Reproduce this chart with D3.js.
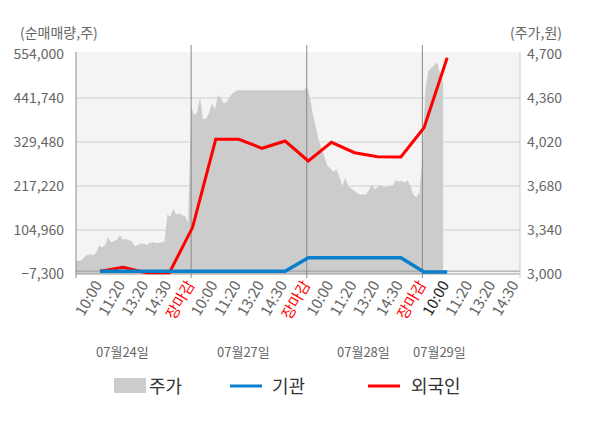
<!DOCTYPE html>
<meta charset="utf-8">
<style>
body { margin: 0; background: #fff; }
text { font-family: "Noto Sans CJK KR", "Noto Sans", sans-serif; }
</style>
<body>
<div id="chart"></div>
<script src="https://cdn.jsdelivr.net/npm/d3@7"></script>
<script>

// x categories for the net-buying lines (last day has no close yet)
var timeLabels = ['10:00', '11:20', '13:20', '14:30', '장마감',
                  '10:00', '11:20', '13:20', '14:30', '장마감',
                  '10:00', '11:20', '13:20', '14:30', '장마감',
                  '10:00', '11:20', '13:20', '14:30'];
var dayLabels = ['07월24일', '07월27일', '07월28일', '07월29일'];

// net buying volume (shares)
var foreignNet = [0, 10000, -4000, -4000, 111800, 336400, 336400, 313400, 332000,
                  281000, 328700, 302200, 292000, 291200, 366000, 544600];
var instNet = [0, 0, 0, 0, 0, 0, 0, 0, 0,
               34300, 34300, 34300, 34300, 34300, -2000, -2000];

// intraday price samples (won), 39 per full day
var price0724 = [3100, 3100, 3105, 3130, 3150, 3150, 3145, 3165, 3220, 3205,
                 3225, 3285, 3245, 3255, 3265, 3300, 3265, 3270, 3260, 3255,
                 3215, 3225, 3235, 3235, 3225, 3240, 3245, 3240, 3240, 3245,
                 3250, 3460, 3440, 3505, 3460, 3470, 3455, 3445, 3400];
var price0727 = [4290, 4230, 4250, 4365, 4200, 4200, 4240, 4320, 4270, 4385,
                 4360, 4320, 4330, 4370, 4395, 4415, 4420, 4420, 4420, 4420,
                 4420, 4420, 4420, 4420, 4420, 4420, 4420, 4420, 4420, 4420,
                 4420, 4420, 4420, 4420, 4420, 4420, 4420, 4420, 4420];
var price0728 = [4445, 4380, 4240, 4140, 4035, 3970, 3905, 3835, 3815, 3790,
                 3810, 3750, 3680, 3745, 3680, 3660, 3645, 3625, 3615, 3615,
                 3615, 3650, 3690, 3655, 3675, 3685, 3670, 3675, 3680, 3680,
                 3725, 3715, 3720, 3705, 3725, 3680, 3610, 3595, 3630];
var price0729 = [3900, 4420, 4570, 4590, 4615, 4635, 4550, 4470];

var leftTicks = [-7300, 104960, 217220, 329480, 441740, 554000];
var rightTicks = [3000, 3340, 3680, 4020, 4360, 4700];

var W = 600, H = 428;
var PLOT_L = 76, PLOT_R = 520, PLOT_T = 52, PLOT_B = 274;
var SAMPLES_PER_DAY = 39;
var RED = '#ff0000';
var BLUE = '#0a7fcc';
var AREA = '#cccccc';
var LABEL = '#666';

var svg = d3.select('#chart').append('svg')
    .attr('width', W)
    .attr('height', H);

var yLeft = d3.scaleLinear().domain([-7300, 554000]).range([PLOT_B, 54]);
var yRight = d3.scaleLinear().domain([3000, 4700]).range([PLOT_B, 54]);
var xPt = d3.scalePoint().domain(d3.range(timeLabels.length)).range([100, 516.6]);
var xDay = d3.scaleLinear().domain([0, 4]).range([75.5, 538]);

// background
svg.append('rect')
    .attr('x', PLOT_L).attr('y', PLOT_T)
    .attr('width', PLOT_R - PLOT_L).attr('height', PLOT_B - PLOT_T)
    .attr('fill', '#f4f4f4');

svg.append('clipPath').attr('id', 'plotclip')
  .append('rect')
    .attr('x', PLOT_L).attr('y', PLOT_T)
    .attr('width', PLOT_R - PLOT_L).attr('height', PLOT_B - PLOT_T);

// grid lines
svg.selectAll('.grid')
    .data(leftTicks.slice(1, 5))
    .enter().append('line')
    .attr('class', 'grid')
    .attr('x1', PLOT_L).attr('x2', PLOT_R)
    .attr('y1', function(d) { return yLeft(d); })
    .attr('y2', function(d) { return yLeft(d); })
    .attr('stroke', '#dcdcdc')
    .attr('stroke-width', 1.5);

// price area
var pricePts = [];
[price0724, price0727, price0728, price0729].forEach(function(arr, d) {
  arr.forEach(function(p, i) {
    pricePts.push({t: d + i / SAMPLES_PER_DAY, p: p});
  });
});
var area = d3.area()
    .x(function(d) { return xDay(d.t); })
    .y0(PLOT_B)
    .y1(function(d) { return yRight(d.p); });
svg.append('path')
    .datum(pricePts)
    .attr('clip-path', 'url(#plotclip)')
    .attr('fill', AREA)
    .attr('d', area);

// zero line and bottom axis
svg.append('line')
    .attr('x1', PLOT_L).attr('x2', PLOT_R)
    .attr('y1', yLeft(0)).attr('y2', yLeft(0))
    .attr('stroke', '#999').attr('stroke-width', 1);
svg.append('line')
    .attr('x1', PLOT_L).attr('x2', PLOT_R)
    .attr('y1', PLOT_B).attr('y2', PLOT_B)
    .attr('stroke', '#999').attr('stroke-width', 1.2);

// day dividers
svg.selectAll('.divider')
    .data([1, 2, 3])
    .enter().append('line')
    .attr('class', 'divider')
    .attr('x1', function(d) { return xDay(d); })
    .attr('x2', function(d) { return xDay(d); })
    .attr('y1', 45).attr('y2', 278)
    .attr('stroke', '#888').attr('stroke-width', 1);

// left and right axis lines
svg.append('line')
    .attr('x1', PLOT_L).attr('x2', PLOT_L)
    .attr('y1', PLOT_T).attr('y2', 278)
    .attr('stroke', '#888').attr('stroke-width', 1);
svg.append('line')
    .attr('x1', PLOT_R).attr('x2', PLOT_R)
    .attr('y1', PLOT_T).attr('y2', 278)
    .attr('stroke', '#ccc').attr('stroke-width', 1);

// lines
var lineL = d3.line()
    .x(function(d, i) { return xPt(i); })
    .y(function(d) { return yLeft(d); });
svg.append('path')
    .datum(foreignNet)
    .attr('fill', 'none')
    .attr('stroke', RED)
    .attr('stroke-width', 3)
    .attr('d', lineL);
svg.append('path')
    .datum(instNet)
    .attr('fill', 'none')
    .attr('stroke', BLUE)
    .attr('stroke-width', 3.5)
    .attr('d', lineL);

// y tick labels
svg.selectAll('.ltick')
    .data(leftTicks)
    .enter().append('text')
    .attr('class', 'ltick')
    .attr('x', 64)
    .attr('y', function(d) { return yLeft(d); })
    .attr('dy', '0.35em')
    .attr('text-anchor', 'end')
    .attr('font-size', 14)
    .attr('fill', LABEL)
    .text(function(d) { return d3.format(',')(d); });
svg.selectAll('.rtick')
    .data(rightTicks)
    .enter().append('text')
    .attr('class', 'rtick')
    .attr('x', 527)
    .attr('y', function(d) { return yRight(d); })
    .attr('dy', '0.35em')
    .attr('text-anchor', 'start')
    .attr('font-size', 14)
    .attr('fill', LABEL)
    .text(function(d) { return d3.format(',')(d); });

svg.append('text')
    .attr('x', 20).attr('y', 38)
    .attr('font-size', 14).attr('fill', LABEL)
    .text('(순매매량,주)');
svg.append('text')
    .attr('x', 562).attr('y', 38)
    .attr('text-anchor', 'end')
    .attr('font-size', 14).attr('fill', LABEL)
    .text('(주가,원)');

// x labels
svg.selectAll('.xlab')
    .data(timeLabels)
    .enter().append('text')
    .attr('class', 'xlab')
    .attr('transform', function(d, i) { return 'translate(' + (xPt(i) - 2) + ',282) rotate(-60)'; })
    .attr('dy', '0.35em')
    .attr('text-anchor', 'end')
    .attr('font-size', 15)
    .attr('fill', function(d, i) {
      if (d === '장마감') return RED;
      if (i === 15) return '#222';
      return LABEL;
    })
    .text(function(d) { return d; });

var dateLabelX = [96, 217, 337, 413];
svg.selectAll('.dlab')
    .data(dayLabels)
    .enter().append('text')
    .attr('class', 'dlab')
    .attr('x', function(d, i) { return dateLabelX[i]; })
    .attr('y', 357)
    .attr('font-size', 13)
    .attr('fill', LABEL)
    .text(function(d) { return d; });

// legend
var legend = svg.append('g');
legend.append('rect')
    .attr('x', 114).attr('y', 378).attr('width', 32).attr('height', 15)
    .attr('fill', AREA);
legend.append('text').attr('x', 149).attr('y', 393)
    .attr('font-size', 18).attr('fill', '#333').text('주가');
legend.append('line')
    .attr('x1', 230).attr('x2', 262).attr('y1', 386).attr('y2', 386)
    .attr('stroke', BLUE).attr('stroke-width', 3);
legend.append('text').attr('x', 272).attr('y', 393)
    .attr('font-size', 18).attr('fill', '#333').text('기관');
legend.append('line')
    .attr('x1', 368).attr('x2', 400).attr('y1', 386).attr('y2', 386)
    .attr('stroke', RED).attr('stroke-width', 3);
legend.append('text').attr('x', 411).attr('y', 393)
    .attr('font-size', 18).attr('fill', '#333').text('외국인');

</script>
</body>
